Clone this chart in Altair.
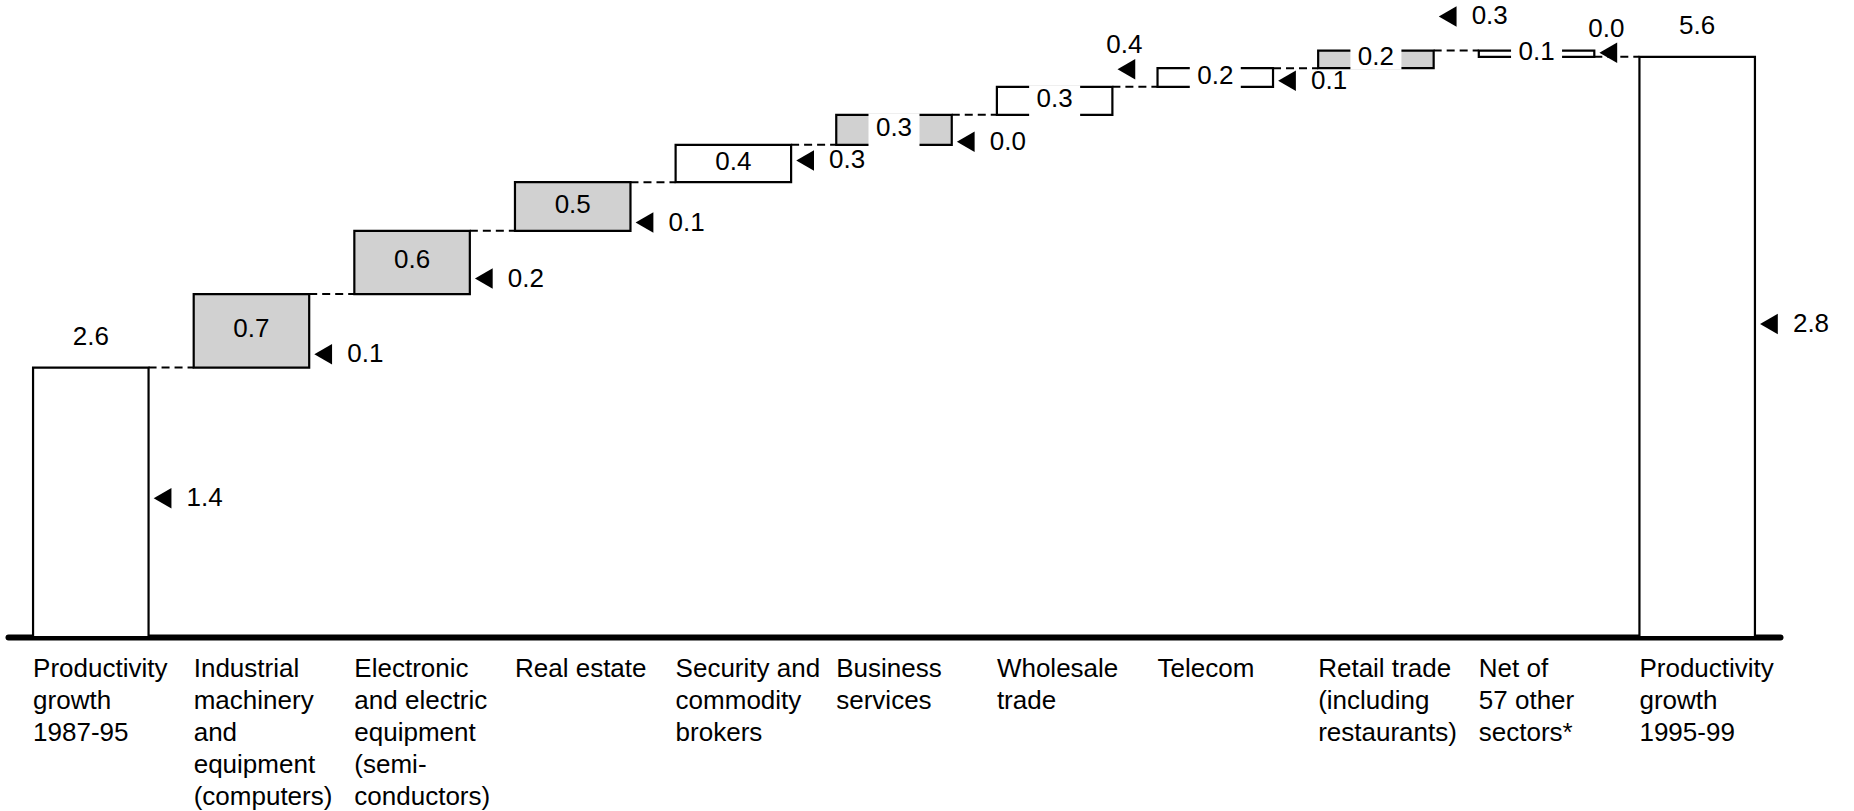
import altair as alt
import pandas as pd

# Sector categories along the x axis ("|" marks a line break in the axis label)
sectors = [
    "Productivity|growth|1987-95",
    "Industrial|machinery|and|equipment|(computers)",
    "Electronic|and electric|equipment|(semi-|conductors)",
    "Real estate",
    "Security and|commodity|brokers",
    "Business|services",
    "Wholesale|trade",
    "Telecom",
    "Retail trade|(including|restaurants)",
    "Net of|57 other|sectors*",
    "Productivity|growth|1995-99",
]

# Productivity growth at both ends of the bridge (% per year)
growth_1987_95 = 2.6
growth_1995_99 = 5.6

# Contribution of each sector to the acceleration (percentage points)
sector_contributions = [0.71, 0.61, 0.47, 0.36, 0.29, 0.27, 0.18, 0.17, -0.06]

# Sectors drawn with a grey fill
shaded_sectors = [
    "Industrial|machinery|and|equipment|(computers)",
    "Electronic|and electric|equipment|(semi-|conductors)",
    "Real estate",
    "Business|services",
    "Retail trade|(including|restaurants)",
]

# Side annotations: value shown next to each bar and the level of its marker
side_values = [1.4, 0.1, 0.2, 0.1, 0.3, 0.0, 0.4, 0.1, 0.3, 0.0, 2.8]
side_levels = [1.34, 2.73, 3.46, 4.00, 4.60, 4.78, 5.48, 5.37, 5.99, 5.64, 3.02]
side_labels_above = ["Wholesale|trade", "Net of|57 other|sectors*"]

# ---- tables built from the arrays above ----
rows = [dict(sector=sectors[0], low=0.0, high=growth_1987_95,
             amount=growth_1987_95, kind="total")]
level = growth_1987_95
for name, c in zip(sectors[1:-1], sector_contributions):
    rows.append(dict(sector=name, low=level, high=level + c, amount=c, kind="step"))
    level += c
rows.append(dict(sector=sectors[-1], low=0.0, high=growth_1995_99,
                 amount=growth_1995_99, kind="total"))
steps = pd.DataFrame(rows)
steps["mid"] = (steps["low"] + steps["high"]) / 2
steps["tone"] = ["shaded" if s in shaded_sectors else "plain" for s in steps["sector"]]

links = pd.DataFrame({
    "sector": sectors[:-1],
    "next_sector": sectors[1:],
    "level": list(steps["high"][:-1]),
})

markers = pd.DataFrame({
    "sector": sectors,
    "level": side_levels,
    "value": side_values,
    "place": ["above" if s in side_labels_above else "right" for s in sectors],
})

FONT = "Liberation Sans"
FS = 26
W, H = 1772, 632
P_IN, P_OUT = 0.281, 0.156
step_px = W / (len(sectors) - P_IN + 2 * P_OUT)
band_px = step_px * (1 - P_IN)

x_scale = alt.Scale(domain=sectors, paddingInner=P_IN, paddingOuter=P_OUT)
y_scale = alt.Scale(domain=[0, 6.1], nice=False, zero=False)

x_axis = alt.Axis(
    title=None, orient="bottom", domain=True, domainColor="black",
    domainWidth=6, domainCap="round", ticks=False, tickSize=0,
    labelAlign="left", labelBaseline="top", labelOffset=-band_px / 2,
    labelPadding=18, labelFont=FONT, labelFontSize=FS, labelColor="black",
    labelLineHeight=32, labelExpr="split(datum.label, '|')",
    labelLimit=400, labelOverlap=False, labelAngle=0, grid=False,
)


def xpos(field="sector", band=None):
    """x encoding on the shared sector scale (same axis in every layer)."""
    kw = dict(scale=x_scale, axis=x_axis)
    if band is not None:
        kw["bandPosition"] = band
    return alt.X(f"{field}:N", **kw)


def ypos(field):
    return alt.Y(f"{field}:Q", scale=y_scale, axis=None)


base = alt.Chart(steps)

boxes = base.mark_bar(stroke="black", strokeWidth=2.2).encode(
    x=xpos(),
    y=ypos("low"),
    y2="high:Q",
    color=alt.Color("tone:N", legend=None,
                    scale=alt.Scale(domain=["shaded", "plain"],
                                    range=["#d1d1d1", "#ffffff"])),
)

connectors = alt.Chart(links).mark_rule(
    stroke="black", strokeWidth=2, strokeDash=[8, 5]
).encode(
    x=xpos(band=1),
    x2=alt.X2("next_sector", bandPosition=0),
    y=ypos("level"),
)

# white cut-outs behind the labels of the thin boxes
gaps = base.transform_filter(
    "datum.kind == 'step' && abs(datum.amount) < 0.35"
).mark_bar(width=48, fill="white", stroke="white", strokeWidth=3).encode(
    x=xpos(),
    y=ypos("low"),
    y2="high:Q",
)

step_text = base.transform_filter("datum.kind == 'step'").transform_calculate(
    txt="format(abs(datum.amount), '.1f')"
).mark_text(font=FONT, fontSize=FS, color="black", baseline="middle", dy=-2).encode(
    x=xpos(),
    y=ypos("mid"),
    text="txt:N",
)

total_text = base.transform_filter("datum.kind == 'total'").transform_calculate(
    txt="format(datum.amount, '.1f')"
).mark_text(font=FONT, fontSize=FS, color="black", baseline="middle", dy=-31).encode(
    x=xpos(),
    y=ypos("high"),
    text="txt:N",
)

mk = alt.Chart(markers)

arrows = mk.mark_point(
    shape="triangle-left", filled=True, color="black", size=420,
    opacity=1, xOffset=14, strokeWidth=0,
).encode(
    x=xpos(band=1),
    y=ypos("level"),
)

side_right = mk.transform_filter("datum.place == 'right'").transform_calculate(
    txt="format(datum.value, '.1f')"
).mark_text(font=FONT, fontSize=FS, color="black", align="left",
            baseline="middle", dx=38).encode(
    x=xpos(band=1),
    y=ypos("level"),
    text="txt:N",
)

side_above = mk.transform_filter("datum.place == 'above'").transform_calculate(
    txt="format(datum.value, '.1f')"
).mark_text(font=FONT, fontSize=FS, color="black", align="center",
            baseline="middle", dx=12, dy=-24).encode(
    x=xpos(band=1),
    y=ypos("level"),
    text="txt:N",
)

chart = alt.layer(
    boxes, connectors, gaps, step_text, total_text, arrows, side_right, side_above
).properties(
    width=W, height=H,
    autosize=alt.AutoSizeParams(type="none"),
    padding={"left": 8, "top": 5, "right": 1854 - 8 - W, "bottom": 811 - 5 - H},
).configure(background="white").configure_view(stroke=None)

chart.save("out.html", embed_options={"renderer": "svg", "actions": False})
